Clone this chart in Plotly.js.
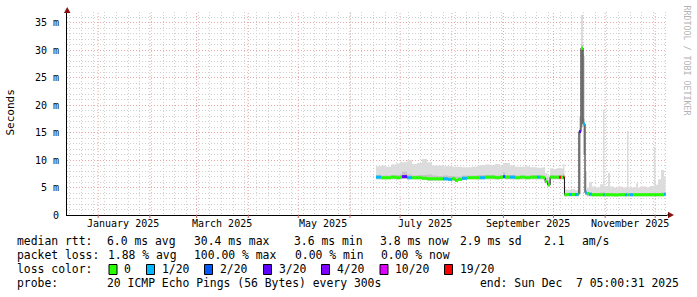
<!DOCTYPE html>
<html><head><meta charset="utf-8">
<script src="https://cdn.plot.ly/plotly-3.0.1.min.js"></script>
<style>html,body{margin:0;padding:0;background:#fff;}#chart{width:697px;height:297px;}</style>
</head><body><div id="chart"></div>
<script>
// ---- data ----
const dates = [
 '2025-06-16 14:00','2025-06-19 14:00','2025-06-22 14:00','2025-06-25 14:00','2025-06-28 14:00',
 '2025-07-01 00:00','2025-07-02 05:00','2025-07-05 05:00','2025-07-08 05:00','2025-07-11 05:00',
 '2025-07-14 05:00','2025-07-17 05:00','2025-07-20 05:00','2025-07-23 05:00','2025-07-26 19:00',
 '2025-07-29 19:00','2025-08-01 05:00','2025-08-03 00:00','2025-08-04 19:00','2025-08-07 05:00',
 '2025-08-10 05:00','2025-08-13 05:00','2025-08-16 05:00','2025-08-18 00:00','2025-08-21 00:00',
 '2025-08-24 00:00','2025-08-27 00:00','2025-08-30 00:00','2025-08-31 19:00','2025-09-02 00:00',
 '2025-09-05 00:00','2025-09-08 00:00','2025-09-11 00:00','2025-09-14 00:00','2025-09-17 00:00',
 '2025-09-18 19:00','2025-09-21 05:00','2025-09-23 00:00','2025-09-24 19:00','2025-09-26 00:00',
 '2025-09-27 12:00','2025-09-29 00:00','2025-10-01 00:00','2025-10-02 19:00','2025-10-04 10:00',
 '2025-10-05 12:00','2025-10-06 19:00','2025-10-07 14:00','2025-10-09 02:00','2025-10-10 07:00',
 '2025-10-12 02:00','2025-10-13 22:00','2025-10-15 02:00','2025-10-15 22:00','2025-10-16 07:00',
 '2025-10-17 12:00','2025-10-18 17:00','2025-10-19 22:00','2025-10-21 02:00','2025-10-22 07:00',
 '2025-10-24 02:00','2025-10-26 12:00','2025-10-28 22:00','2025-10-30 17:00','2025-10-31 14:00',
 '2025-11-02 17:00','2025-11-03 22:00','2025-11-06 07:00','2025-11-08 17:00','2025-11-11 02:00',
 '2025-11-12 22:00','2025-11-14 02:00','2025-11-15 00:00','2025-11-15 22:00','2025-11-17 17:00',
 '2025-11-19 12:00','2025-11-20 17:00','2025-11-23 02:00','2025-11-25 12:00','2025-11-27 22:00',
 '2025-11-30 07:00','2025-12-01 05:00','2025-12-02 17:00','2025-12-04 12:00','2025-12-06 07:00',
 '2025-12-07 05:00'
];
// median rtt in ms
const medianMs = [
 6.9,6.8,6.8,6.9,6.8, 6.9,7.0,6.8,6.8,6.8, 6.7,6.6,6.6,6.6,6.6, 6.5,6.6,6.3,6.5,6.7,
 6.8,6.8,6.8,6.8,6.9, 6.9,6.8,6.9,7.0,6.9, 6.9,6.8,6.9,6.8,6.9, 6.9,6.9,6.9,6.8,6.1,
 5.5,6.9,6.9,6.9,6.9, 6.9,6.9,3.7,3.75,3.75, 3.75,3.75,3.75,3.8,15.2, 30.4,16.6,4.05,3.9,3.8,
 3.7,3.7,3.7,3.7,3.7, 3.7,3.7,3.65,3.7,3.7, 3.7,3.7,3.7,3.7,3.7, 3.7,3.7,3.7,3.7,3.7,
 3.7,3.7,3.7,3.7,3.8, 3.8
];
// index into lossLabels / lossColors
const lossIdx = [
 1,0,0,0,0, 0,3,1,0,0, 0,0,0,0,1, 1,0,0,0,1,
 0,0,0,1,0, 0,0,0,2,0, 1,0,0,0,0, 0,1,0,0,0,
 0,0,0,0,6, 0,6,0,0,1, 0,1,1,0,3, 0,1,1,0,1,
 0,0,0,1,0, 0,0,0,0,0, 1,0,0,1,0, 0,0,0,0,0,
 0,0,0,0,1, 0
];
// smoke: lowest ping, top of the dense band, highest ping (ms)
const smokeLow = [
 6.5,6.5,6.5,6.5,6.5, 6.5,6.6,6.5,6.5,6.5, 6.4,6.3,6.3,6.3,6.3, 6.2,6.3,6.1,6.2,6.4,
 6.5,6.5,6.5,6.5,6.5, 6.5,6.5,6.5,6.6,6.5, 6.5,6.5,6.5,6.5,6.5, 6.5,6.5,6.5,6.5,5.8,
 5.2,6.5,6.5,6.5,6.5, 6.5,6.5,3.4,3.4,3.4, 3.4,3.4,3.4,3.4,3.8, 16.0,11.0,3.6,3.4,3.4,
 3.4,3.4,3.4,3.4,3.4, 3.4,3.4,3.4,3.4,3.4, 3.4,3.4,3.4,3.4,3.4, 3.4,3.4,3.4,3.4,3.4,
 3.4,3.4,3.4,3.4,3.4, 3.4
];
const smokeDense = [
 7.3,7.2,7.2,7.3,7.3, 7.4,7.9,7.4,7.2,7.3, 7.3,7.4,7.2,7.1,7.2, 7.1,7.1,7.0,7.0,7.2,
 7.2,7.2,7.3,7.3,7.3, 7.3,7.2,7.3,7.8,7.3, 7.3,7.2,7.2,7.2,7.2, 7.3,7.3,7.2,7.2,6.8,
 6.3,7.3,7.2,7.2,7.3, 7.2,7.5,4.0,4.0,4.0, 4.0,4.0,4.0,4.1,15.8, 31.0,17.5,4.6,4.2,4.1,
 4.0,4.0,4.1,4.2,4.0, 4.0,4.0,4.0,4.0,4.0, 4.0,4.1,4.0,4.0,4.0, 4.0,4.0,4.0,4.0,4.0,
 4.1,4.0,4.0,4.1,4.1, 4.0
];
const smokeHigh = [
 8.9,9.0,8.8,9.2,9.4, 9.7,9.6,10.0,9.3,9.5, 10.2,9.6,9.0,9.0,8.9, 8.9,8.8,8.8,8.8,8.7,
 8.7,8.8,9.0,9.1,9.2, 9.1,9.3,9.0,9.5,9.5, 9.0,8.8,8.8,8.9,8.7, 8.7,8.6,8.6,8.7,7.6,
 7.2,8.5,8.4,8.5,8.6, 8.5,9.3,4.7,4.6,4.6, 4.7,4.5,4.5,4.8,18.0, 36.5,29.0,8.0,5.0,6.0,
 5.2,5.0,5.6,19.2,5.3, 7.7,5.2,5.0,5.2,5.0, 5.1,15.3,5.0,5.0,5.0, 5.8,5.0,5.2,5.0,5.3,
 12.4,5.5,6.5,8.2,7.0, 5.0
];
const lossLabels = ['0','1/20','2/20','3/20','4/20','10/20','19/20'];
const lossColors = ['#26ff00','#00b8ff','#0059ff','#5e00ff','#7e00ff','#dd00ff','#ff0000'];

const monthStarts = ['2025-01-01','2025-02-01','2025-03-01','2025-04-01','2025-05-01','2025-06-01',
 '2025-07-01','2025-08-01','2025-09-01','2025-10-01','2025-11-01','2025-12-01'];
const monthLabelDates = ['2025-01-16','2025-03-16','2025-05-16','2025-07-16','2025-09-16','2025-11-16'];
const monthLabels = ['January 2025','March 2025','May 2025','July 2025','September 2025','November 2025'];
const yTickVals = [0,5,10,15,20,25,30,35];
const yTickText = ['0','5 m','10 m','15 m','20 m','25 m','30 m','35 m'];

const statRows = [
 ['median rtt:', '6.0 ms avg', '30.4 ms max', '3.6 ms min', '3.8 ms now', '2.9 ms sd', '2.1', 'am/s'],
 ['packet loss:', '1.88 % avg', '100.00 % max', '0.00 % min', '0.00 % now'],
];
const probeText = '20 ICMP Echo Pings (56 Bytes) every 300s';
const endText = 'end: Sun Dec\u00a0 7 05:00:31 2025';

// ---- layout helpers (pixel -> paper) ----
const L = 67, T = 12, W = 600, H = 203;
const px = x => (x - L) / W;
const py = y => (T + H - y) / H;
const mono = 'DejaVu Sans Mono, monospace';
const xRange = ['2024-12-13 07:00', '2025-12-08 02:00'];
const majorGrid = '#eaa6a6', minorGrid = '#d0d0d0';

const traces = [];
traces.push({x: dates, y: smokeLow, mode: 'lines', line: {width: 0, shape: 'hv'}, hoverinfo: 'skip'});
traces.push({x: dates, y: smokeHigh, mode: 'lines', line: {width: 0, shape: 'hv'}, fill: 'tonexty', fillcolor: '#dcdcdc', hoverinfo: 'skip'});
traces.push({x: dates, y: smokeLow, mode: 'lines', line: {width: 0, shape: 'hv'}, hoverinfo: 'skip'});
traces.push({x: dates, y: smokeDense, mode: 'lines', line: {width: 0, shape: 'hv'}, fill: 'tonexty', fillcolor: '#c4c4c4', hoverinfo: 'skip'});
traces.push({x: dates, y: medianMs, mode: 'lines', line: {width: 1, shape: 'hv', color: '#111'}, hoverinfo: 'skip'});
lossColors.forEach((c, k) => {
  const xs = [], ys = [];
  for (let i = 0; i < dates.length - 1; i++) {
    if (lossIdx[i] === k) { xs.push(dates[i], dates[i + 1], null); ys.push(medianMs[i], medianMs[i], null); }
  }
  if (xs.length) traces.push({x: xs, y: ys, mode: 'lines', line: {width: 3, color: c}, connectgaps: false, hoverinfo: 'skip'});
});

const annotations = [];
monthLabelDates.forEach((d, i) => annotations.push({
  x: d, xref: 'x', y: 0, yref: 'paper', xanchor: 'center', yanchor: 'top', yshift: -3, showarrow: false,
  text: monthLabels[i], font: {family: mono, size: 10, color: '#000'}, borderpad: 0, borderwidth: 0
}));
annotations.push({x: px(10.5), y: py(113), xref: 'paper', yref: 'paper', xanchor: 'center', yanchor: 'middle',
  text: 'Seconds', textangle: -90, showarrow: false, font: {family: mono, size: 11, color: '#000'}, borderpad: 0, borderwidth: 0});
annotations.push({x: px(686.5), y: py(60), xref: 'paper', yref: 'paper', xanchor: 'center', yanchor: 'middle',
  text: 'RRDTOOL / TOBI OETIKER', textangle: 90, showarrow: false, font: {family: mono, size: 8.3, color: '#b4b4b4'}, borderpad: 0, borderwidth: 0});

const legendFont = {family: mono, size: 11.4, color: '#000'};
const addText = (x, y, t) => annotations.push({x: px(x), y: py(y), xref: 'paper', yref: 'paper', xanchor: 'left', yanchor: 'middle',
  text: t, showarrow: false, font: legendFont, borderpad: 0, borderwidth: 0});
const row1X = [16.5, 107, 193.5, 294, 380, 460, 544, 582];
statRows[0].forEach((t, i) => addText(row1X[i], 241, t));
const row2X = [16.5, 108, 193.5, 295, 381];
statRows[1].forEach((t, i) => addText(row2X[i], 255, t));
addText(16.5, 269, 'loss color:');
const boxX = [109, 146.5, 204.5, 263.5, 321.5, 380, 444.5];
const shapes = [];
lossLabels.forEach((t, i) => {
  shapes.push({type: 'rect', xref: 'paper', yref: 'paper', x0: px(boxX[i]), x1: px(boxX[i] + 8), y0: py(274.5), y1: py(264.5),
    fillcolor: lossColors[i], line: {color: '#000', width: 1}});
  addText(boxX[i] + 15, 269, t);
});
addText(16.5, 283, 'probe:');
addText(107, 283, probeText);
addText(480, 283, endText);

// month grid lines and month ticks
monthStarts.forEach(m => {
  shapes.push({type: 'line', xref: 'x', yref: 'paper', x0: m, x1: m, y0: 0, y1: 1, layer: 'below',
    line: {color: majorGrid, width: 1, dash: '1px,2px'}});
  shapes.push({type: 'line', xref: 'x', yref: 'paper', x0: m, x1: m, y0: py(215), y1: py(218),
    line: {color: '#c06060', width: 1}});
});
// axis arrows
shapes.push({type: 'path', xref: 'paper', yref: 'paper', fillcolor: '#8b1010', line: {width: 0},
  path: `M ${px(64)},${py(13)} L ${px(70.5)},${py(13)} L ${px(67.2)},${py(7)} Z`});
shapes.push({type: 'path', xref: 'paper', yref: 'paper', fillcolor: '#8b1010', line: {width: 0},
  path: `M ${px(668)},${py(211.8)} L ${px(668)},${py(218.2)} L ${px(674)},${py(215)} Z`});
shapes.push({type: 'line', xref: 'paper', yref: 'paper', x0: px(667), x1: px(669), y0: py(215), y1: py(215), line: {color: '#000', width: 1}});

const layout = {
  width: 697, height: 297,
  margin: {l: L, r: 697 - L - W, t: T, b: 297 - T - H, pad: 0},
  paper_bgcolor: '#ffffff', plot_bgcolor: '#ffffff',
  showlegend: false,
  font: {family: mono, size: 10, color: '#000'},
  xaxis: {
    type: 'date', range: xRange, fixedrange: true,
    tickmode: 'linear', tick0: '2024-12-15', dtick: 7 * 86400000,
    showgrid: true, gridcolor: minorGrid, griddash: '1px,2px', gridwidth: 1,
    showticklabels: false, ticks: '',
    showline: true, linecolor: '#000', linewidth: 1, zeroline: false
  },
  yaxis: {
    range: [0, 37], fixedrange: true,
    tickmode: 'array', tickvals: yTickVals, ticktext: yTickText,
    showgrid: true, gridcolor: majorGrid, griddash: '1px,2px', gridwidth: 1,
    ticks: '', ticklabelstandoff: 5, tickfont: {family: mono, size: 10, color: '#000'},
    showline: true, linecolor: '#000', linewidth: 1, zeroline: false,
    minor: {dtick: 1, showgrid: true, gridcolor: minorGrid, griddash: '1px,2px', gridwidth: 1}
  },
  annotations, shapes
};
Plotly.newPlot('chart', traces, layout, {staticPlot: true, displayModeBar: false});
</script></body></html>
